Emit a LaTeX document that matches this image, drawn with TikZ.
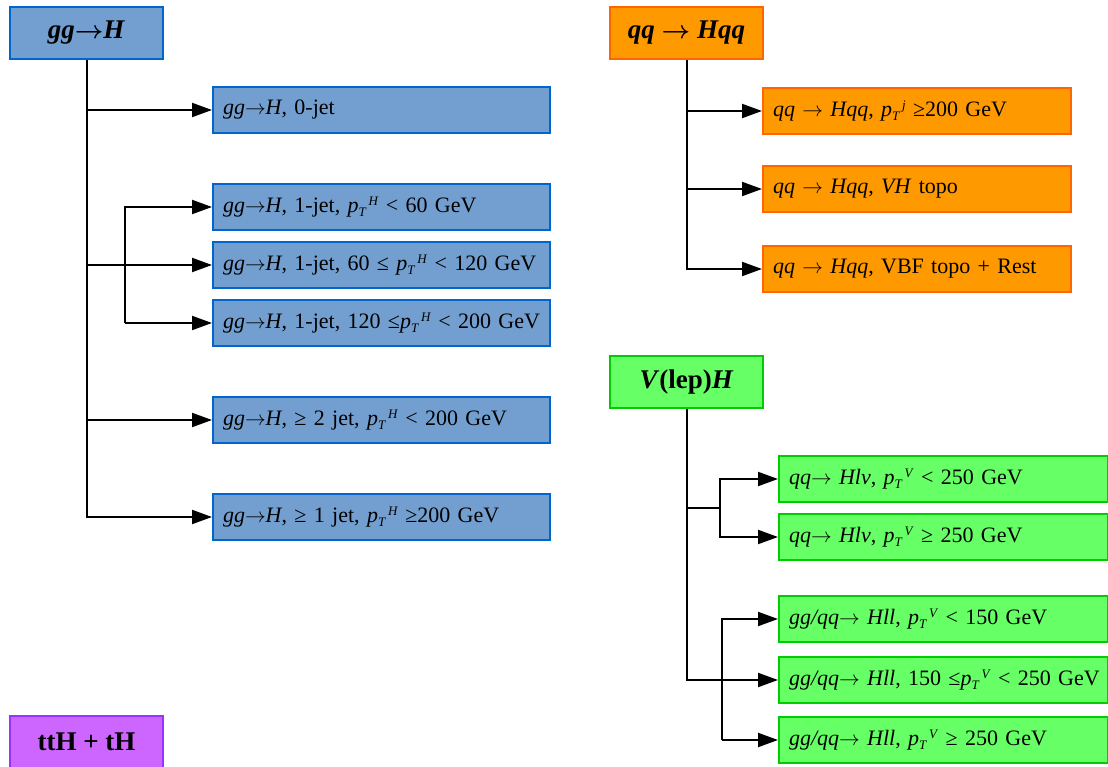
\documentclass[tikz,border=0pt]{standalone}
\usepackage{fontspec}
\setmainfont{Liberation Serif}
\usetikzlibrary{arrows.meta}
\definecolor{bfill}{RGB}{114,159,207}
\definecolor{bline}{RGB}{0,102,204}
\definecolor{ofill}{RGB}{255,153,0}
\definecolor{oline}{RGB}{255,102,0}
\definecolor{gfill}{RGB}{102,255,102}
\definecolor{gline}{RGB}{0,204,0}
\definecolor{pfill}{RGB}{204,102,255}
\definecolor{pline}{RGB}{153,51,255}
\newcommand{\scsz}{\fontsize{13}{13}\selectfont}
\newcommand{\ptx}[1]{\textit{p}\raisebox{-0.4ex}{\scsz\textit{T}}\kern2pt\raisebox{0.7ex}{\scsz\textit{#1}}}
\newcommand{\ra}{$\rightarrow$}
\begin{document}
\begin{tikzpicture}[x=1pt,y=-1pt,
  hdr/.style={draw, line width=2pt, anchor=north west, minimum width=153pt, minimum height=52pt, inner sep=0pt, font=\fontsize{27}{30}\selectfont\bfseries\boldmath},
  sub/.style={draw, line width=2pt, anchor=north west, minimum height=46pt, inner xsep=10pt, inner ysep=0pt, align=left, font=\fontsize{22}{24}\selectfont},
  bbox/.style={fill=bfill, draw=bline},
  obox/.style={fill=ofill, draw=oline},
  gbox/.style={fill=gfill, draw=gline},
  pbox/.style={fill=pfill, draw=pline},
  bsub/.style={sub, bbox, minimum width=337pt, text width=317pt},
  osub/.style={sub, obox, minimum width=308pt, text width=288pt},
  gsub/.style={sub, gbox, minimum width=329pt, text width=309pt},
  conn/.style={line width=2pt, -{Triangle[length=20pt,width=14pt]}},
  wire/.style={line width=2pt}
]
\useasboundingbox (0,0) rectangle (1108,767);

% gg -> H
\node[hdr, bbox] (ggH) at (9,6) {\textit{gg}\ra\textit{H}};
\node[bsub] (g0) at (212,86) {\textit{gg}\ra\textit{H}, 0-jet};
\node[bsub] (g1a) at (212,183) {\textit{gg}\ra\textit{H}, 1-jet, \ptx{H} < 60 GeV};
\node[bsub] (g1b) at (212,241) {\textit{gg}\ra\textit{H}, 1-jet, 60 ≤ \ptx{H} < 120 GeV};
\node[bsub] (g1c) at (212,299) {\mbox{\textit{gg}\ra\textit{H}, 1-jet, 120 ≤\ptx{H} < 200 GeV}};
\node[bsub] (g2) at (212,396) {\textit{gg}\ra\textit{H}, ≥ 2 jet, \ptx{H} < 200 GeV};
\node[bsub] (g3) at (212,493) {\textit{gg}\ra\textit{H}, ≥ 1 jet, \ptx{H} ≥200 GeV};

\draw[conn] (ggH.south) |- (g3.west);
\draw[conn] (ggH.south |- g0.west) -- (g0.west);
\draw[conn] (ggH.south |- g1b.west) -- (g1b.west);
\draw[conn] (ggH.south |- g2.west) -- (g2.west);
\coordinate (gb) at (125,0);
\draw[conn] (gb |- g1c.west) |- (g1a.west);
\draw[conn] (gb |- g1c.west) -- (g1c.west);

% qq -> Hqq
\node[hdr, obox] (qqH) at (609,6) {\textit{qq} \ra{} \textit{Hqq}};
\node[osub] (q1) at (762,87) {\textit{qq} \ra{} \textit{Hqq}, \ptx{j} ≥200 GeV};
\node[osub] (q2) at (762,165) {\textit{qq} \ra{} \textit{Hqq}, \textit{VH} topo};
\node[osub] (q3) at (762,245) {\textit{qq} \ra{} \textit{Hqq}, VBF topo + Rest};
\draw[conn] (qqH.south) |- (q3.west);
\draw[conn] (qqH.south |- q1.west) -- (q1.west);
\draw[conn] (qqH.south |- q2.west) -- (q2.west);

% V(lep)H
\node[hdr, gbox] (VH) at (609,355) {\textit{V}(lep)\textit{H}};
\node[gsub] (v1) at (778,455) {\textit{qq}\ra{} \textit{Hlv}, \ptx{V} < 250 GeV};
\node[gsub] (v2) at (778,513) {\textit{qq}\ra{} \textit{Hlv}, \ptx{V} ≥ 250 GeV};
\node[gsub] (l1) at (778,595) {\textit{gg/qq}\ra{} \textit{Hll}, \ptx{V} < 150 GeV};
\node[gsub] (l2) at (778,656) {\mbox{\textit{gg/qq}\ra{} \textit{Hll}, 150 ≤\ptx{V} < 250 GeV}};
\node[gsub] (l3) at (778,716) {\textit{gg/qq}\ra{} \textit{Hll}, \ptx{V} ≥ 250 GeV};

\draw[conn] (VH.south) |- (l2.west);
\path (v1.west) -- (v2.west) coordinate[midway] (vm);
\coordinate (vb1) at (720,0);
\coordinate (vb2) at (722,0);
\draw[wire] (VH.south |- vm) -- (vb1 |- vm);
\draw[conn] (vb1 |- vm) |- (v1.west);
\draw[conn] (vb1 |- vm) |- (v2.west);
\draw[conn] (vb2 |- l3.west) |- (l1.west);
\draw[conn] (vb2 |- l3.west) -- (l3.west);

% ttH + tH
\node[hdr, pbox] (tth) at (9,715) {ttH + tH};
\end{tikzpicture}
\end{document}
